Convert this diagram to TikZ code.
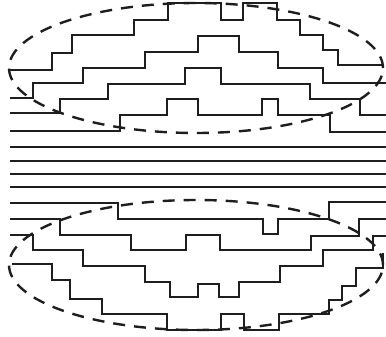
\documentclass[tikz,border=0pt]{standalone}
\usepackage{tikz}
\definecolor{ink}{HTML}{1E1E1E}
\tikzset{
  wire/.style={line width=2.2pt,draw=ink},
  hull/.style={line width=2.4pt,draw=ink,dash pattern=on 12pt off 9pt}
}
\begin{document}
\begin{tikzpicture}[x=1pt,y=-1pt]
  \useasboundingbox (0,0) rectangle (386,337);
  % upper traces
  \draw[wire] (10,70) -- (52,70) -- (52,53) -- (72,53) -- (72,35) -- (134,35) -- (134,20) -- (168,20) -- (168,3) -- (221,3) -- (221,20) -- (243,20) -- (243,3) -- (277,3) -- (277,20) -- (300,20) -- (300,35) -- (323,35) -- (323,50) -- (338,50) -- (338,65) -- (384,65);
  \draw[wire] (10,98) -- (33,98) -- (33,83) -- (83,83) -- (83,68) -- (145,68) -- (145,52) -- (198,52) -- (198,36) -- (239,36) -- (239,52) -- (278,52) -- (278,68) -- (323,68) -- (323,83) -- (386,83);
  \draw[wire] (10,113) -- (60,113) -- (60,99) -- (108,99) -- (108,84) -- (185,84) -- (185,68) -- (221,68) -- (221,84) -- (310,84) -- (310,99) -- (360,99) -- (360,115) -- (386,115);
  \draw[wire] (10,131) -- (120,131) -- (120,115) -- (167,115) -- (167,99) -- (198,99) -- (198,115) -- (262,115) -- (262,99) -- (278,99) -- (278,115) -- (330,115) -- (330,132) -- (386,132);
  % straight traces
  \foreach \y in {147,161,174,187}
    \draw[wire] (10,\y) -- (386,\y);
  % lower traces
  \draw[wire] (10,203) -- (118,203) -- (118,219) -- (263,219) -- (263,234) -- (278,234) -- (278,219) -- (329,219) -- (329,202) -- (386,202);
  \draw[wire] (10,219) -- (60,219) -- (60,235) -- (131,235) -- (131,250) -- (186,250) -- (186,235) -- (220,235) -- (220,250) -- (311,250) -- (311,236) -- (359,236) -- (359,219) -- (386,219);
  \draw[wire] (10,235) -- (33,235) -- (33,250) -- (83,250) -- (83,266) -- (145,266) -- (145,282) -- (170,282) -- (170,297) -- (198,297) -- (198,284) -- (219,284) -- (219,297) -- (239,297) -- (239,282) -- (280,282) -- (280,266) -- (323,266) -- (323,250) -- (373,250) -- (373,236) -- (386,236);
  \draw[wire] (12,264) -- (52,264) -- (52,280) -- (70,280) -- (70,299) -- (102,299) -- (102,314) -- (167,314) -- (167,330) -- (221,330) -- (221,314) -- (244,314) -- (244,330) -- (279,330) -- (279,314) -- (329,314) -- (329,300) -- (342,300) -- (342,286) -- (356,286) -- (356,268) -- (383,268) -- (383,253);
  % dashed outlines
  \draw[hull] (196,68) ellipse [x radius=187pt,y radius=65pt];
  \draw[hull] (196,265) ellipse [x radius=187pt,y radius=65pt];
\end{tikzpicture}
\end{document}
